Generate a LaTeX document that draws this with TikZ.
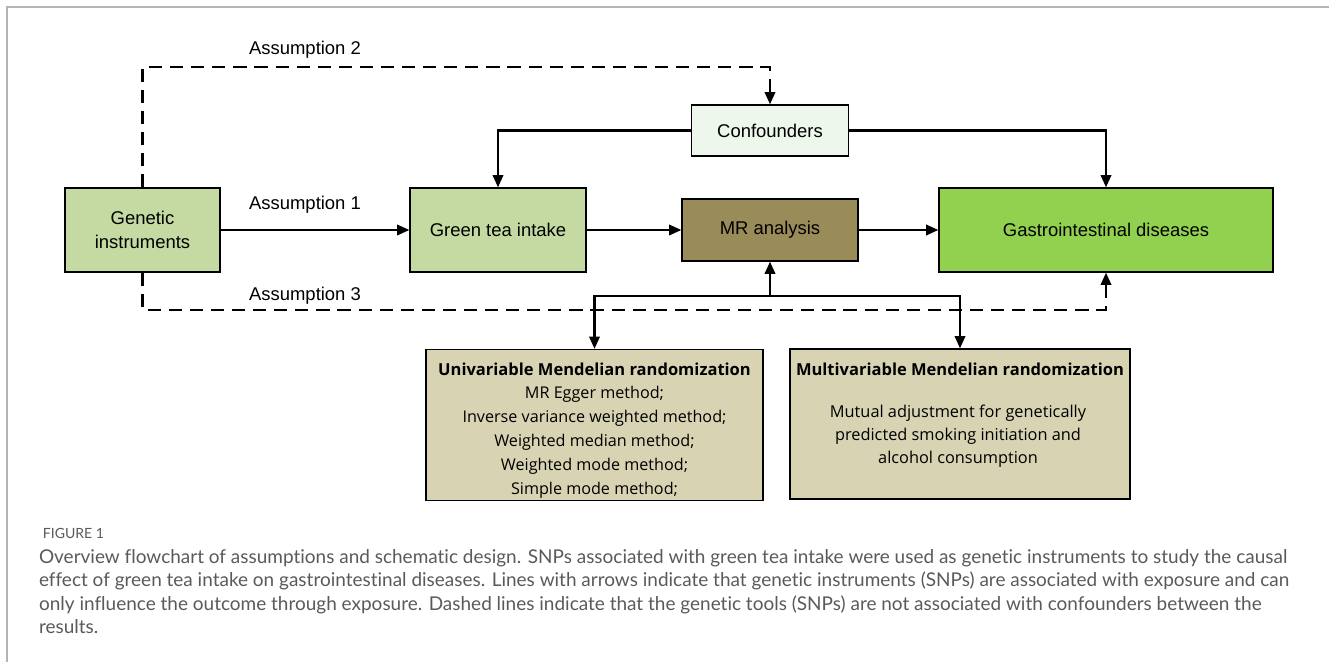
\documentclass[tikz,border=0pt]{standalone}
\usepackage{fontspec}
\setmainfont{Liberation Sans}
\newfontfamily\boxfont{Open Sans}
\newfontfamily\capfont[Ligatures=NoCommon]{Lato}
\usetikzlibrary{arrows.meta}
\definecolor{leafgreen}{HTML}{C5DAA2}
\definecolor{mintwhite}{HTML}{EEF7EC}
\definecolor{mrolive}{HTML}{9A8C58}
\definecolor{brightgreen}{HTML}{92D050}
\definecolor{sandtan}{HTML}{D8D3B3}
\definecolor{framegray}{HTML}{B4B4B4}
\definecolor{capgray}{HTML}{5A5A5A}

\begin{document}
\begin{tikzpicture}[x=0.02cm,y=-0.02cm,>={Triangle[length=7pt,width=6pt]},line width=1.2pt,
                    font=\fontsize{10.5}{13.7}\selectfont]

  \tikzstyle{box}=[rectangle,draw,line width=0.8pt,align=center,inner sep=0pt]
  \tikzstyle{dash line}=[dash pattern=on 7.5pt off 4.5pt]

  \useasboundingbox (0,0) rectangle (1329,662);
  \draw[framegray,line width=1pt] (7,662) -- (7,7) -- (1329,7);

  \node[box,fill=leafgreen,minimum width=3.1cm,minimum height=1.68cm]    (GEN) at (142.5,230) {Genetic\\instruments};
  \node[box,fill=leafgreen,minimum width=3.52cm,minimum height=1.68cm]   (TEA) at (498,230)   {Green tea intake};
  \node[box,fill=mrolive,minimum width=3.52cm,minimum height=1.24cm]     (MR)  at (770,230)   {MR analysis};
  \node[box,fill=brightgreen,minimum width=6.68cm,minimum height=1.68cm] (GID) at (1106,230)  {Gastrointestinal diseases};
  \node[box,fill=mintwhite,minimum width=3.14cm,minimum height=1.02cm]   (CON) at (770,130.5) {Confounders};
  \node[box,fill=sandtan,minimum width=6.74cm,minimum height=3.02cm]     (UNI) at (594.5,425) {};
  \node[box,fill=sandtan,minimum width=6.8cm,minimum height=3.0cm]       (MUL) at (960,424)   {};

  \node (UNIhead) at (594.5,369) {\boxfont\fontsize{9.4}{12}\selectfont\bfseries Univariable Mendelian randomization};
  \node[align=center,font=\boxfont\fontsize{9.2}{13.7}\selectfont] (UNIbody) at (594.5,442)
    {MR Egger method;\\Inverse variance weighted method;\\Weighted median method;\\Weighted mode method;\\Simple mode method;};
  \node (MULhead) at (960,369) {\boxfont\fontsize{9.4}{12}\selectfont\bfseries Multivariable Mendelian randomization};
  \node[align=center,font=\boxfont\fontsize{9.3}{13.1}\selectfont] (MULbody) at (958,436)
    {Mutual adjustment for genetically\\predicted smoking initiation and\\alcohol consumption};

  \node (A1) at (305,205) {Assumption 1};
  \node (A2) at (305,50)  {Assumption 2};
  \node (A3) at (305,296) {Assumption 3};

  \coordinate (split) at (770,296);

  \draw[->] (GEN) -- (TEA);
  \draw[->] (TEA) -- (MR);
  \draw[->] (MR) -- (GID);
  \draw[->] (CON.west) -| (TEA.north);
  \draw[->] (CON.east) -| (GID.north);
  \draw[->,dash line] (GEN.north) -- ++(0,-120) -| (CON.north);
  \draw[->,dash line] (GEN.south) -- ++(0,37) -| (GID.south);
  \draw[->] (split) -- (MR.south);
  \draw[->] (split) -| (UNI.north);
  \draw[->] (split) -| (MUL.north);

  % caption
  \node[anchor=west,text=capgray,font=\capfont\fontsize{8}{9}\selectfont] (FIG) at (36,533) {FIGURE 1};
  \node[anchor=north west,align=left,inner sep=0pt,text=capgray,font=\capfont\fontsize{10.8}{13.4}\selectfont] (CAP) at (38,548)
    {Overview flowchart of assumptions and schematic design. SNPs associated with green tea intake were used as genetic instruments to study the causal\\
     effect of green tea intake on gastrointestinal diseases. Lines with arrows indicate that genetic instruments (SNPs) are associated with exposure and can\\
     only influence the outcome through exposure. Dashed lines indicate that the genetic tools (SNPs) are not associated with confounders between the\\
     results.};
\end{tikzpicture}
\end{document}
